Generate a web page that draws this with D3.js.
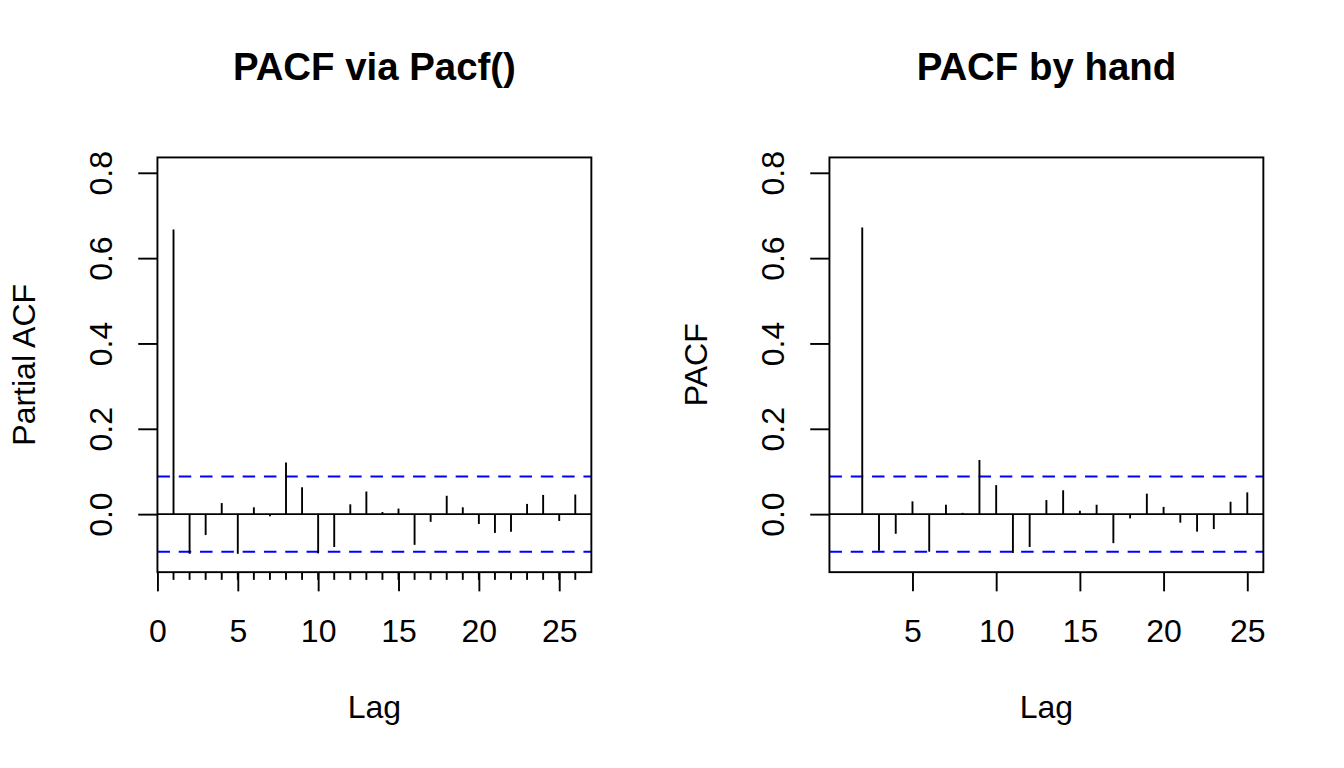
<!DOCTYPE html>
<html>
<head>
<meta charset="utf-8">
<script src="https://cdn.jsdelivr.net/npm/d3@7"></script>
<style>
  body { margin: 0; background: #fff; }
  svg { display: block; font-family: "Liberation Sans", Arial, Helvetica, sans-serif; }
</style>
</head>
<body>
<div id="chart"></div>
<script>
// lags and partial autocorrelations
const pacfLags = [1, 2, 3, 4, 5, 6, 7, 8, 9, 10, 11, 12, 13, 14, 15, 16, 17, 18, 19, 20, 21, 22, 23, 24, 25, 26]
const pacfValues = [0.667, -0.093, -0.049, 0.026, -0.093, 0.016, -0.005, 0.121, 0.063, -0.092, -0.077, 0.023,
                    0.053, 0.005, 0.013, -0.072, -0.018, 0.043, 0.016, -0.023, -0.044, -0.041, 0.024, 0.045,
                    -0.016, 0.046]

const handLags = [1, 2, 3, 4, 5, 6, 7, 8, 9, 10, 11, 12, 13, 14, 15, 16, 17, 18, 19, 20, 21, 22, 23, 24, 25]
const handValues = [0, 0.672, -0.086, -0.046, 0.030, -0.088, 0.022, 0.003, 0.127, 0.068, -0.091, -0.077,
                    0.033, 0.056, 0.008, 0.022, -0.068, -0.010, 0.048, 0.017, -0.020, -0.041, -0.035, 0.029,
                    0.051]

const confLimit = 0.088
const yLimits = [-0.1, 0.8]
const yTicks = [0, 0.2, 0.4, 0.6, 0.8]
const pacfXTicks = [0, 5, 10, 15, 20, 25]
const handXTicks = [5, 10, 15, 20, 25]

const width = 1344, height = 768
const line = 38.4
const mar = { top: 4.1 * line, right: 2.1 * line, bottom: 5.1 * line, left: 4.1 * line }
const panelW = width / 2
const lw = 1.9

const svg = d3.select("#chart").append("svg")
    .attr("width", width).attr("height", height)
    .attr("viewBox", `0 0 ${width} ${height}`)

// R pads the data range by 4% on each side
function rRange(lo, hi) {
    const pad = (hi - lo) * 0.04
    return [lo - pad, hi + pad]
}

function drawPanel(offsetX, opts) {
    const x0 = offsetX + mar.left, x1 = offsetX + panelW - mar.right
    const y0 = mar.top, y1 = height - mar.bottom

    const x = d3.scaleLinear().domain(rRange(d3.min(opts.lags), d3.max(opts.lags))).range([x0, x1])
    const y = d3.scaleLinear().domain(rRange(yLimits[0], yLimits[1])).range([y1, y0])

    const g = svg.append("g")

    // zero line
    g.append("line")
        .attr("x1", x0).attr("x2", x1)
        .attr("y1", y(0)).attr("y2", y(0))
        .attr("stroke", "#000").attr("stroke-width", lw)

    // confidence limits
    g.selectAll("line.ci").data([confLimit, -confLimit]).enter().append("line")
        .attr("class", "ci")
        .attr("x1", x0).attr("x2", x1)
        .attr("y1", d => y(d)).attr("y2", d => y(d))
        .attr("stroke", "#0000ff").attr("stroke-width", 2)
        .attr("stroke-dasharray", "12.5,8.8")

    // spikes
    g.selectAll("line.spike").data(opts.lags).enter().append("line")
        .attr("class", "spike")
        .attr("x1", d => x(d)).attr("x2", d => x(d))
        .attr("y1", y(0)).attr("y2", (d, i) => y(opts.values[i]))
        .attr("stroke", "#000").attr("stroke-width", lw)

    // x axis
    const xAxis = g.append("g")
        .attr("transform", `translate(0,${y1})`)
        .call(d3.axisBottom(x).tickValues(opts.xTicks).tickFormat(d3.format("d"))
            .tickSize(line * 0.5).tickSizeOuter(0).tickPadding(0))
    xAxis.select(".domain").remove()
    xAxis.selectAll(".tick line").attr("stroke", "#000").attr("stroke-width", lw)
    xAxis.selectAll(".tick text")
        .attr("y", 70).attr("dy", null)
        .attr("fill", "#000").style("font-size", "32px")
    xAxis.attr("font-family", null).attr("font-size", null)

    if (opts.minorTicks) {
        g.selectAll("line.minor").data(opts.lags).enter().append("line")
            .attr("class", "minor")
            .attr("x1", d => x(d)).attr("x2", d => x(d))
            .attr("y1", y1).attr("y2", y1 + line * 0.2)
            .attr("stroke", "#000").attr("stroke-width", lw)
    }

    // y axis
    const yAxis = g.append("g")
        .attr("transform", `translate(${x0},0)`)
        .call(d3.axisLeft(y).tickValues(yTicks).tickFormat(d3.format(".1f"))
            .tickSize(line * 0.5).tickSizeOuter(0))
    yAxis.select(".domain").remove()
    yAxis.selectAll(".tick line").attr("stroke", "#000").attr("stroke-width", lw)
    yAxis.selectAll(".tick text")
        .attr("x", null).attr("dy", null)
        .attr("text-anchor", "middle")
        .attr("transform", "translate(-45,0) rotate(-90)")
        .attr("fill", "#000").style("font-size", "32px")
    yAxis.attr("font-family", null).attr("font-size", null)

    // box
    g.append("rect")
        .attr("x", x0).attr("y", y0)
        .attr("width", x1 - x0).attr("height", y1 - y0)
        .attr("fill", "none").attr("stroke", "#000").attr("stroke-width", lw)

    // title and labels
    g.append("text")
        .attr("x", (x0 + x1) / 2).attr("y", 80)
        .attr("text-anchor", "middle")
        .style("font-size", "38.4px").style("font-weight", "bold")
        .text(opts.title)

    g.append("text")
        .attr("x", (x0 + x1) / 2).attr("y", y1 + 146)
        .attr("text-anchor", "middle")
        .style("font-size", "32px")
        .text("Lag")

    g.append("text")
        .attr("transform", `translate(${x0 - 122},${(y0 + y1) / 2}) rotate(-90)`)
        .attr("text-anchor", "middle")
        .style("font-size", "32px")
        .text(opts.ylab)
}

drawPanel(0, {
    title: "PACF via Pacf()", ylab: "Partial ACF",
    lags: pacfLags, values: pacfValues, xTicks: pacfXTicks, minorTicks: true
})
drawPanel(panelW, {
    title: "PACF by hand", ylab: "PACF",
    lags: handLags, values: handValues, xTicks: handXTicks, minorTicks: false
})
</script>
</body>
</html>
